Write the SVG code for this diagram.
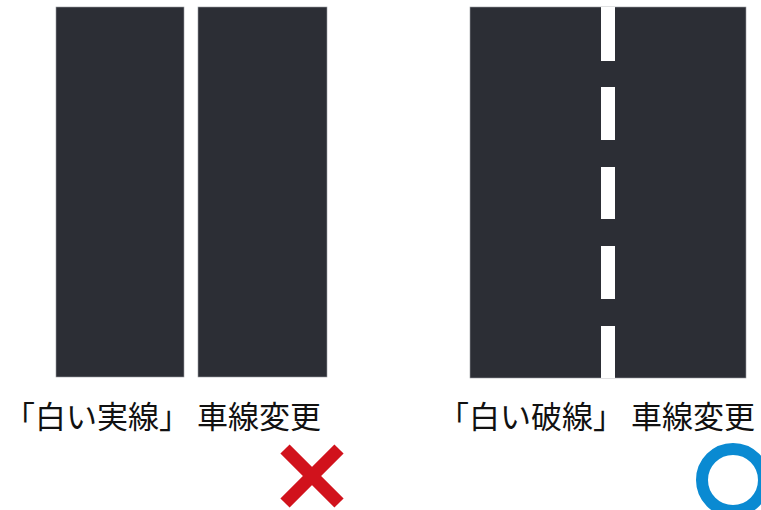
<svg xmlns="http://www.w3.org/2000/svg" width="761" height="510" viewBox="0 0 761 510">
<style>
.road{fill:#2c2e35;stroke:#9a9ca0;stroke-width:0.6}
.dash{fill:#ffffff}
.label{font-family:"Noto Sans CJK JP","Noto Sans",sans-serif;font-size:31px;fill:#111111}
</style>
<rect width="761" height="510" fill="#ffffff"/>
<g id="solid-road">
<rect class="road" x="56" y="7" width="128" height="370"/>
<rect class="road" x="198" y="7" width="129" height="370"/>
</g>
<g id="dashed-road">
<rect class="road" x="470" y="7" width="276" height="371"/>
<rect class="dash" x="601" y="7" width="14" height="54"/>
<rect class="dash" x="601" y="87" width="14" height="53"/>
<rect class="dash" x="601" y="167" width="14" height="52"/>
<rect class="dash" x="601" y="246" width="14" height="53"/>
<rect class="dash" x="601" y="326" width="14" height="52"/>
</g>
<g id="label-solid">
<text class="label" x="4" y="428">「白い実線」 車線変更</text>
</g>
<g id="label-dashed">
<text class="label" x="438" y="428">「白い破線」 車線変更</text>
</g>
<g id="mark-x">
<line x1="285" y1="449" x2="339" y2="503" stroke="#d1121c" stroke-width="13"/>
<line x1="339" y1="449" x2="285" y2="503" stroke="#d1121c" stroke-width="13"/>
</g>
<g id="mark-o">
<circle cx="733" cy="480" r="31" fill="none" stroke="#0a8ad2" stroke-width="12"/>
</g>
</svg>
